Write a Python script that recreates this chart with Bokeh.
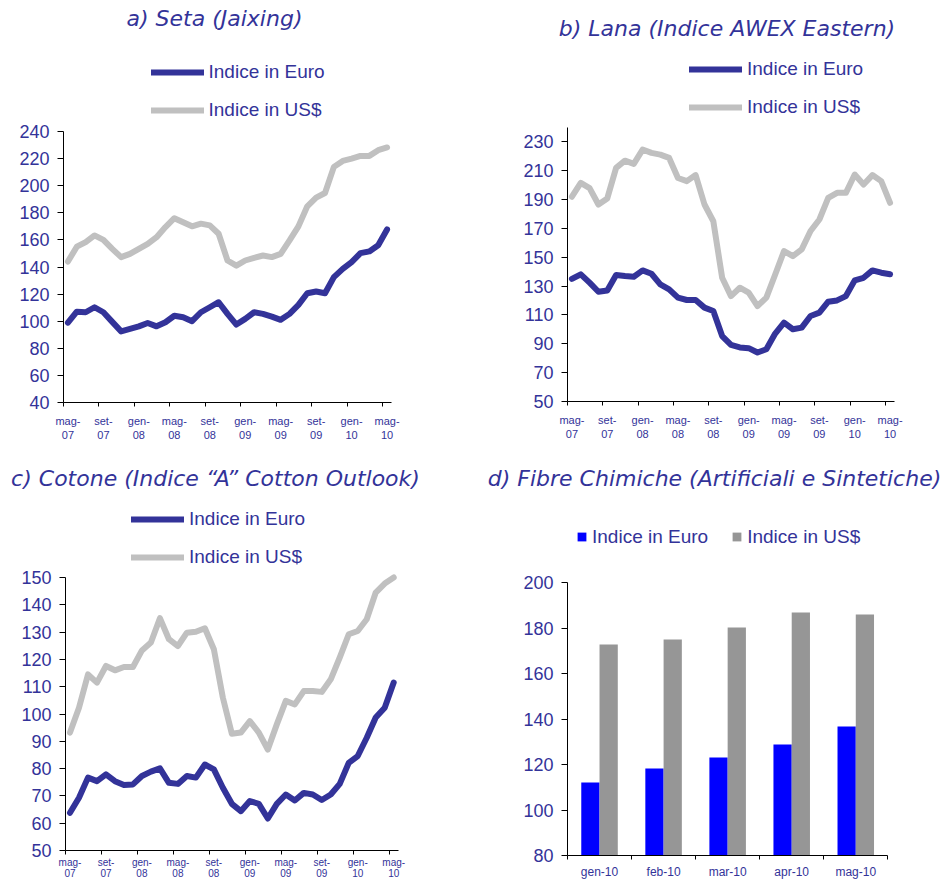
import numpy as np
from bokeh.plotting import figure
from bokeh.models import (Range1d, FixedTicker, Legend, LegendItem, Label)
from bokeh.layouts import column, row
from bokeh.embed import file_html
from bokeh.resources import INLINE

# ---------------- data ----------------
month_labels = ["mag-\n07", "set-\n07", "gen-\n08", "mag-\n08", "set-\n08",
                "gen-\n09", "mag-\n09", "set-\n09", "gen-\n10", "mag-\n10"]

seta_eur = [99, 107, 106.6, 110.3, 106.6, 99.5, 92.5, 94.3, 96.2, 98.7, 96.2, 99.2,
            104, 102.9, 100, 106.6, 110.3, 114, 105.4, 97.5, 101.7, 106.6, 105.4,
            103.4, 101, 105.4, 112, 120.6, 121.9, 120.6, 132.5, 138.6, 143.6, 150.2,
            151.5, 156, 167.7]
seta_usd = [144, 155, 158.4, 163.3, 160, 153.4, 147.3, 149.7, 153.4, 157, 162, 169.5,
            176, 173, 170, 172, 170.7, 164.5, 144.8, 141, 144.8, 146.8, 148.5, 147.3,
            149.7, 159.6, 170, 184.8, 191.2, 194.6, 213.9, 218.3, 220, 222, 222, 226.2,
            228.2]

lana_eur = [135, 138.2, 132.4, 126.1, 127, 137.7, 137, 136.5, 140.9, 138.6, 131.2,
            127.8, 122, 120.4, 120.4, 115.1, 112.8, 95.4, 89.2, 87.5, 87, 84, 86.2,
            97.1, 104.7, 100.1, 101.2, 109.3, 111.6, 119.2, 120.1, 123.1, 134, 135.8,
            140.9, 139.3, 138.2]
lana_usd = [192, 201.6, 198, 186.6, 190.8, 212, 217, 214.8, 224.7, 222.4, 221.2, 218.9,
            205, 202.8, 207, 186.6, 175, 135.8, 123.1, 128.9, 125.5, 116.2, 122, 138.1,
            154.3, 150.8, 155.5, 168.2, 176.2, 191.2, 194.7, 194.7, 207.4, 200.5, 207,
            202.8, 187.8]

cotone_eur = [63.8, 69.3, 76.7, 75.4, 77.9, 75.4, 74, 74.2, 77.3, 78.9, 80.1, 74.8,
              74.4, 77.3, 76.7, 81.5, 79.7, 73, 67.1, 64.4, 68.1, 67.1, 61.7, 67.1,
              70.5, 68.3, 71.1, 70.5, 68.5, 70.5, 74.4, 82.1, 84.6, 91.3, 98.7, 102.3,
              111.5]
cotone_usd = [93.2, 102.3, 114.5, 111.5, 117.6, 116, 117.2, 117.2, 123.3, 126.2, 135.1,
              127.4, 124.9, 129.8, 130.1, 131.4, 123.7, 106, 92.8, 93.2, 97.4, 93.2, 87,
              96.2, 104.8, 103.5, 108.4, 108.4, 108.1, 112.7, 120.7, 129.2, 130.4,
              134.7, 144.5, 147.8, 150]

fibre_months = ["gen-10", "feb-10", "mar-10", "apr-10", "mag-10"]
fibre_eur = [112.2, 118.4, 123.2, 128.9, 136.8]
fibre_usd = [172.9, 175.1, 180.4, 187.0, 186.1]

series_names = ["Indice in Euro", "Indice in US$"]

# ---------------- style ----------------
BLUE = "#333399"
GRAY = "#C0C0C0"
TXT = "#333399"
BAR_EUR = "#0000FF"
BAR_USD = "#969696"
FONT = "Liberation Sans"
TITLE_FONT = "DejaVu Sans"


def make_fig(W, H, box, n, yr, yticks, xlabels, label_step, xfont="11px",
             xstandoff=8, xline=1.2):
    """box = (left, right, top, bottom) of the plotting area in canvas pixels."""
    left, right, top, bottom = box
    x0, x1 = -0.5, n - 0.5
    y0, y1 = yr
    sx = (x1 - x0) / (right - left)
    sy = (y1 - y0) / (bottom - top)
    p = figure(width=W, height=H,
               min_border_left=0, min_border_right=0,
               min_border_top=0, min_border_bottom=0,
               x_range=Range1d(x0 - left * sx, x1 + (W - right) * sx),
               y_range=Range1d(y0 - (H - bottom) * sy, y1 + top * sy),
               output_backend="svg", toolbar_location=None)
    p.outline_line_color = None
    p.xgrid.visible = False
    p.ygrid.visible = False
    p.background_fill_color = "white"
    p.border_fill_color = "white"

    ya = p.yaxis[0]
    ya.fixed_location = x0
    ya.bounds = (y0, y1)
    ya.ticker = FixedTicker(ticks=yticks)
    ya.axis_line_color = "black"
    ya.major_tick_line_color = "black"
    ya.major_tick_out = 6
    ya.major_tick_in = 0
    ya.minor_tick_out = 0
    ya.minor_tick_in = 0
    ya.major_label_standoff = 8
    ya.major_label_text_font = FONT
    ya.major_label_text_font_size = "18px"
    ya.major_label_text_color = TXT

    centres = list(range(0, n, label_step))
    bounds_t = [i - 0.5 for i in range(0, n + 1, label_step)]
    xa = p.xaxis[0]
    xa.fixed_location = y0
    xa.bounds = (x0, x1)
    xa.ticker = FixedTicker(ticks=centres, minor_ticks=bounds_t)
    xa.major_label_overrides = {c: lab for c, lab in zip(centres, xlabels)}
    xa.axis_line_color = "black"
    xa.major_tick_out = 0
    xa.major_tick_in = 0
    xa.minor_tick_line_color = "black"
    xa.minor_tick_out = 4
    xa.minor_tick_in = 0
    xa.major_label_standoff = xstandoff
    xa.major_label_text_font = FONT
    xa.major_label_text_font_size = xfont
    xa.major_label_text_line_height = xline
    xa.major_label_text_color = TXT
    return p


def add_title(p, text, xy):
    p.add_layout(Label(x=xy[0], y=xy[1], x_units="screen", y_units="screen", text=text,
                       text_font=TITLE_FONT, text_font_style="italic",
                       text_font_size="22px", text_color=TXT,
                       text_align="center", text_baseline="middle"))


def line_panel(W, H, box, yr, yticks, eur, usd, title, txy, lxy, **kw):
    n = len(eur)
    p = make_fig(W, H, box, n, yr, yticks, month_labels, 4, **kw)
    x = list(range(n))
    r_usd = p.line(x, usd, line_color=GRAY, line_width=6,
                   line_join="round", line_cap="round")
    r_eur = p.line(x, eur, line_color=BLUE, line_width=6,
                   line_join="round", line_cap="round")
    leg = Legend(items=[LegendItem(label=series_names[0], renderers=[r_eur]),
                        LegendItem(label=series_names[1], renderers=[r_usd])],
                 location=lxy, orientation="vertical",
                 glyph_width=53, glyph_height=20, label_height=20, spacing=16,
                 padding=0, margin=0, label_standoff=5,
                 border_line_color=None, background_fill_alpha=0,
                 label_text_font=FONT, label_text_font_size="19px",
                 label_text_color=TXT)
    p.add_layout(leg, "center")
    add_title(p, title, txy)
    return p


TOP_H, BOT_H = 452, 429
LEFT_W, RIGHT_W = 478, 463

pa = line_panel(LEFT_W, TOP_H, (63, 391, 131, 402), (40, 240), list(range(40, 241, 20)),
                seta_eur, seta_usd, "a) Seta (Jaixing)", (214, TOP_H - 18),
                (150.5, TOP_H - 121))
pb = line_panel(RIGHT_W, TOP_H, (89, 416, 127, 401), (50, 240), list(range(50, 231, 20)),
                lana_eur, lana_usd, "b) Lana (Indice AWEX Eastern)",
                (248.5, TOP_H - 28), (211, TOP_H - 118))
pc = line_panel(LEFT_W, BOT_H, (65, 397.7, 125, 398), (50, 150), list(range(50, 151, 10)),
                cotone_eur, cotone_usd,
                "c) Cotone (Indice \u201cA\u201d Cotton Outlook)",
                (215, BOT_H - 26), (131, BOT_H - 116),
                xfont="10px", xstandoff=2, xline=1.0)

# ---------------- panel d: bars ----------------
nd = len(fibre_months)
pd_ = make_fig(RIGHT_W, BOT_H, (89, 409.3, 130.3, 403.3), nd, (80, 200),
               list(range(80, 201, 20)), fibre_months, 1, xfont="12px", xstandoff=5)
xc = np.arange(nd)
bw = 0.285
r_be = pd_.vbar(x=xc - bw / 2, top=fibre_eur, bottom=80, width=bw,
                fill_color=BAR_EUR, line_color=None)
r_bu = pd_.vbar(x=xc + bw / 2, top=fibre_usd, bottom=80, width=bw,
                fill_color=BAR_USD, line_color=None)
legd = Legend(items=[LegendItem(label=series_names[0], renderers=[r_be]),
                     LegendItem(label=series_names[1], renderers=[r_bu])],
              location=(98, BOT_H - 95.5), orientation="horizontal",
              glyph_width=11, glyph_height=11, label_height=11, spacing=23,
              padding=0, margin=0, label_standoff=5,
              border_line_color=None, background_fill_alpha=0,
              label_text_font=FONT, label_text_font_size="19px",
              label_text_color=TXT)
pd_.add_layout(legd, "center")
add_title(pd_, "d) Fibre Chimiche (Artificiali e Sintetiche)", (236, BOT_H - 26))

layout = column(row(pa, pb), row(pc, pd_))
open("out.html", "w").write(file_html(layout, INLINE))
